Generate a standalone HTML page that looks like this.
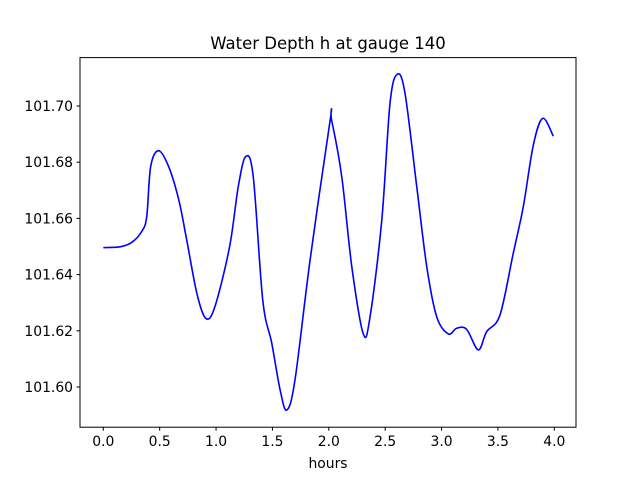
<!DOCTYPE html>
<html><head><meta charset="utf-8"><style>
html,body{margin:0;padding:0;background:#fff;}
svg{display:block;font-family:"DejaVu Sans","Liberation Sans",sans-serif;}
</style></head><body>
<svg id="chart" width="640" height="480">
<rect x="0" y="0" width="640" height="480" fill="#fff"/>
<text x="328" y="49" text-anchor="middle" font-size="16.5">Water Depth h at gauge 140</text>
<g id="xticks"></g>
<g id="yticks"></g>
<path id="line" fill="none" stroke="#0000ff" stroke-width="1.6"/>
<rect x="80" y="57.6" width="496" height="369.6" fill="none" stroke="#000" stroke-width="1"/>
<text x="328" y="468" text-anchor="middle" font-size="13.9">hours</text>
</svg>
<script>
const hours = [0,0.15,0.25,0.34,0.385,0.42,0.49,0.58,0.67,0.74,0.83,0.91,0.99,1.12,1.197,1.263,1.33,1.414,1.494,1.568,1.627,1.70,1.834,2.01,2.026,2.115,2.204,2.306,2.366,2.47,2.543,2.608,2.676,2.78,2.869,2.957,3.06,3.134,3.223,3.326,3.40,3.518,3.636,3.725,3.814,3.897,3.991];
const depth = [101.6496,101.6499,101.6514,101.6553,101.6606,101.6784,101.6841,101.6784,101.6665,101.6523,101.6333,101.6244,101.6286,101.6499,101.6713,101.6820,101.6748,101.6310,101.6156,101.5990,101.5918,101.6025,101.6452,101.6944,101.6947,101.6748,101.6428,101.6189,101.6250,101.6594,101.7010,101.7113,101.7045,101.6713,101.6428,101.6250,101.6189,101.6209,101.6205,101.6132,101.6197,101.6256,101.6476,101.6642,101.6861,101.6956,101.6893];
const xTickLabels = ["0.0","0.5","1.0","1.5","2.0","2.5","3.0","3.5","4.0"];
const yTickLabels = ["101.60","101.62","101.64","101.66","101.68","101.70"];
const NS="http://www.w3.org/2000/svg";
function xs(t){return 103.3 + t*112.75;}
function ys(v){return 387 - (v-101.60)*2810;}
const xg=document.getElementById('xticks'), yg=document.getElementById('yticks');
xTickLabels.forEach(l=>{
  const x=xs(parseFloat(l));
  const ln=document.createElementNS(NS,'line');
  ln.setAttribute('x1',x);ln.setAttribute('x2',x);ln.setAttribute('y1',427.2);ln.setAttribute('y2',430.7);ln.setAttribute('stroke','#000');
  
  
  xg.appendChild(ln);
  const t=document.createElementNS(NS,'text');
  t.setAttribute('x',x);t.setAttribute('y',446);t.setAttribute('text-anchor','middle');t.setAttribute('font-size','13.9');t.textContent=l;
  
  
  xg.appendChild(t);
});
yTickLabels.forEach(l=>{
  const y=ys(parseFloat(l));
  const ln=document.createElementNS(NS,'line');
  ln.setAttribute('x1',76.5);ln.setAttribute('x2',80);ln.setAttribute('y1',y);ln.setAttribute('y2',y);ln.setAttribute('stroke','#000');
  
  
  yg.appendChild(ln);
  const t=document.createElementNS(NS,'text');
  t.setAttribute('x',73);t.setAttribute('y',y+5);t.setAttribute('text-anchor','end');t.setAttribute('font-size','13.9');t.textContent=l;
  
  
  yg.appendChild(t);
});
const pts=hours.map((h,i)=>[xs(h),ys(depth[i])]);
let d='M'+pts[0][0]+','+pts[0][1];
for(let i=0;i<pts.length-1;i++){
  const p0=pts[Math.max(0,i-1)],p1=pts[i],p2=pts[i+1],p3=pts[Math.min(pts.length-1,i+2)];
  const c1=[p1[0]+(p2[0]-p0[0])/6,p1[1]+(p2[1]-p0[1])/6];
  const c2=[p2[0]-(p3[0]-p1[0])/6,p2[1]-(p3[1]-p1[1])/6];
  d+=' C'+c1.join(',')+' '+c2.join(',')+' '+p2.join(',');
}
document.getElementById('line').setAttribute('d',d);
</script>
</body></html>
